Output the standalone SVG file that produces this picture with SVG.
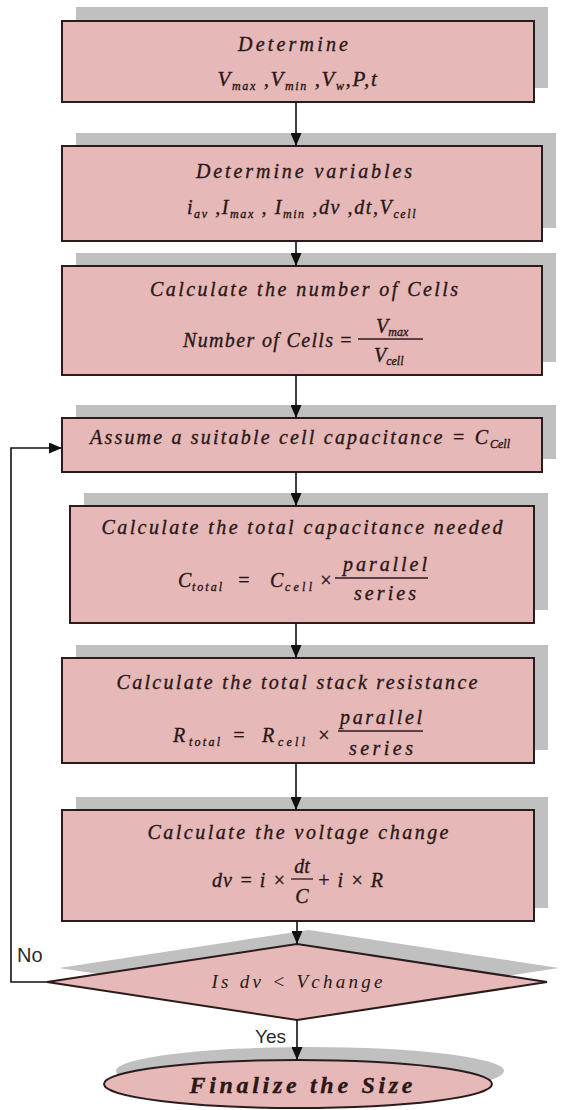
<svg xmlns="http://www.w3.org/2000/svg" width="563" height="1110" viewBox="0 0 563 1110">
<defs>
<style>
.sh{fill:#c0c0c0;stroke:none}
.bx{fill:#e6b9b8;stroke:#2a1c1c;stroke-width:2}
.t{font-family:"Liberation Serif","Times New Roman",serif;font-style:italic;font-size:20px;fill:#2b1717;stroke:#2b1717;stroke-width:0.35}
.s{font-size:12px}
.fl{stroke:#2b1b1b;stroke-width:1.3}
.c{fill:none;stroke:#111;stroke-width:1.6}
.lb{font-family:"Liberation Sans",Arial,sans-serif;fill:#2a2a2a}
</style>
<marker id="ah" viewBox="0 0 13 11" refX="13" refY="5.5" markerWidth="13" markerHeight="11" markerUnits="userSpaceOnUse" orient="auto">
<path d="M0,0 L13,5.5 L0,11 z" fill="#111"/>
</marker>
</defs>
<rect width="563" height="1110" fill="#ffffff"/>

<g id="n1">
<rect class="sh" x="76" y="7" width="472" height="81"/>
<rect class="bx" x="62" y="21" width="472" height="81"/>
<text class="t" x="293" y="51" text-anchor="middle" textLength="110" lengthAdjust="spacing">Determine</text>
<text class="t" x="298" y="86" text-anchor="middle" letter-spacing="1.6" style="font-size:21px">V<tspan class="s" dy="4">max</tspan><tspan dy="-4"> ,V</tspan><tspan class="s" dy="4">min</tspan><tspan dy="-4"> ,V</tspan><tspan class="s" dy="4">w</tspan><tspan dy="-4">,P,t</tspan></text>
</g>

<g id="n2">
<rect class="sh" x="76" y="133" width="480" height="95"/>
<rect class="bx" x="62" y="146" width="480" height="95"/>
<text class="t" x="304" y="178" text-anchor="middle" textLength="216" lengthAdjust="spacing">Determine variables</text>
<text class="t" x="302" y="214" text-anchor="middle" letter-spacing="1.6">i<tspan class="s" dy="4">av</tspan><tspan dy="-4"> ,I</tspan><tspan class="s" dy="4">max</tspan><tspan dy="-4"> , I</tspan><tspan class="s" dy="4">min</tspan><tspan dy="-4"> ,dv ,dt,V</tspan><tspan class="s" dy="4">cell</tspan></text>
</g>

<g id="n3">
<rect class="sh" x="76" y="253" width="480" height="109"/>
<rect class="bx" x="62" y="266" width="480" height="109"/>
<text class="t" x="304" y="296" text-anchor="middle" textLength="308" lengthAdjust="spacing">Calculate the number of Cells</text>
<text class="t" x="183" y="347" textLength="150" lengthAdjust="spacing">Number of Cells</text>
<text class="t" x="339" y="347">=</text>
<text class="t" x="376" y="333">V<tspan class="s" dy="3">max</tspan></text>
<line class="fl" x1="358" y1="339" x2="423" y2="339"/>
<text class="t" x="374" y="362">V<tspan class="s" dy="3">cell</tspan></text>
</g>

<g id="n4">
<rect class="sh" x="76" y="405" width="480" height="54"/>
<rect class="bx" x="62" y="418" width="480" height="54"/>
<text class="t" x="90" y="444" textLength="398" lengthAdjust="spacing">Assume a suitable cell capacitance = C</text>
<text class="t s" x="490" y="448">Cell</text>
</g>

<g id="n5">
<rect class="sh" x="84" y="493" width="464" height="117"/>
<rect class="bx" x="70" y="506" width="464" height="117"/>
<text class="t" x="302" y="534" text-anchor="middle" textLength="401" lengthAdjust="spacing">Calculate the total capacitance needed</text>
<text class="t" x="178" y="587">C</text>
<text class="t s" x="192" y="591" textLength="30" lengthAdjust="spacing">total</text>
<text class="t" x="237" y="587">=</text>
<text class="t" x="270" y="587">C</text>
<text class="t s" x="285" y="591" textLength="27" lengthAdjust="spacing">cell</text>
<text class="t" x="319" y="587">×</text>
<text class="t" x="385" y="571" text-anchor="middle" textLength="84" lengthAdjust="spacing">parallel</text>
<line class="fl" x1="335" y1="578" x2="428" y2="578"/>
<text class="t" x="385" y="600" text-anchor="middle" textLength="62" lengthAdjust="spacing">series</text>
</g>

<g id="n6">
<rect class="sh" x="76" y="645" width="472" height="105"/>
<rect class="bx" x="62" y="658" width="472" height="105"/>
<text class="t" x="297" y="689" text-anchor="middle" textLength="361" lengthAdjust="spacing">Calculate the total stack resistance</text>
<text class="t" x="173" y="742">R</text>
<text class="t s" x="189" y="746" textLength="31" lengthAdjust="spacing">total</text>
<text class="t" x="232" y="742">=</text>
<text class="t" x="262" y="742">R</text>
<text class="t s" x="278" y="746" textLength="27" lengthAdjust="spacing">cell</text>
<text class="t" x="317" y="742">×</text>
<text class="t" x="381" y="724" text-anchor="middle" textLength="82" lengthAdjust="spacing">parallel</text>
<line class="fl" x1="338" y1="731" x2="423" y2="731"/>
<text class="t" x="381" y="755" text-anchor="middle" textLength="64" lengthAdjust="spacing">series</text>
</g>

<g id="n7">
<rect class="sh" x="76" y="797" width="472" height="111"/>
<rect class="bx" x="62" y="810" width="472" height="111"/>
<text class="t" x="298" y="839" text-anchor="middle" textLength="301" lengthAdjust="spacing">Calculate the voltage change</text>
<text class="t" x="212" y="887" textLength="74" lengthAdjust="spacing">dv = i ×</text>
<text class="t" x="302" y="873" text-anchor="middle">dt</text>
<line class="fl" x1="291" y1="879" x2="313" y2="879"/>
<text class="t" x="302" y="903" text-anchor="middle">C</text>
<text class="t" x="317" y="887" textLength="66" lengthAdjust="spacing">+ i × R</text>
</g>

<g id="n8">
<polygon class="sh" points="59,968 309,930 559,968 309,1006"/>
<polygon class="bx" points="47,982 297,944 547,982 297,1020"/>
<text class="t" x="297" y="988" text-anchor="middle" textLength="171" lengthAdjust="spacing" style="font-size:19px;stroke-width:0">Is dv &lt; Vchange</text>
</g>

<g id="n9">
<ellipse class="sh" cx="310" cy="1071" rx="194" ry="24"/>
<ellipse class="bx" cx="298" cy="1084" rx="194" ry="24"/>
<text class="t" x="301" y="1093" text-anchor="middle" textLength="223" lengthAdjust="spacing" style="font-weight:bold;font-size:24px">Finalize the Size</text>
</g>

<g id="connectors">
<line class="c" x1="296" y1="102" x2="296" y2="146" marker-end="url(#ah)"/>
<line class="c" x1="296" y1="241" x2="296" y2="266" marker-end="url(#ah)"/>
<line class="c" x1="296" y1="375" x2="296" y2="418" marker-end="url(#ah)"/>
<line class="c" x1="296" y1="472" x2="296" y2="506" marker-end="url(#ah)"/>
<line class="c" x1="296" y1="623" x2="296" y2="658" marker-end="url(#ah)"/>
<line class="c" x1="296" y1="763" x2="296" y2="810" marker-end="url(#ah)"/>
<line class="c" x1="297" y1="921" x2="297" y2="944" marker-end="url(#ah)"/>
<line class="c" x1="297" y1="1020" x2="297" y2="1060" marker-end="url(#ah)"/>
<path class="c" d="M47,982 H11 V448 H62" marker-end="url(#ah)"/>
<text class="lb" x="17" y="962" style="font-size:20px">No</text>
<text class="lb" x="255" y="1043" style="font-size:19px">Yes</text>
</g>
</svg>
